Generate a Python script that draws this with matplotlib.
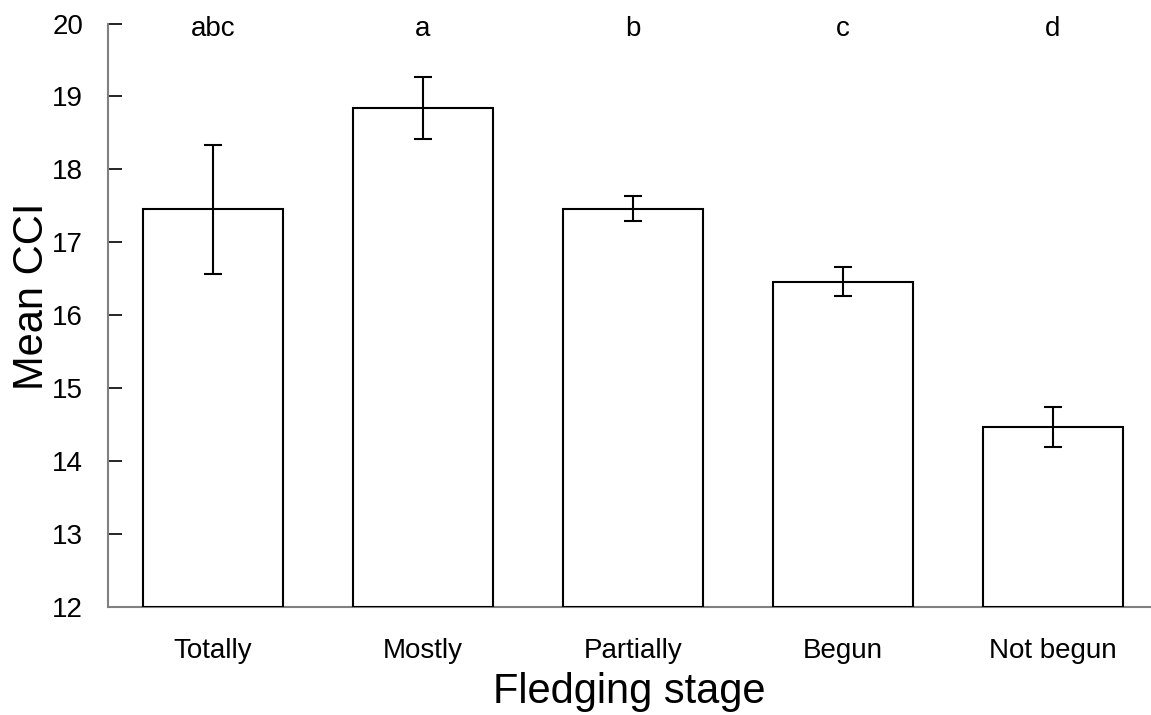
import numpy as np
import matplotlib
matplotlib.use("Agg")
import matplotlib.pyplot as plt

plt.rcParams['font.family'] = ['Liberation Sans', 'DejaVu Sans']

# mean condition index per fledging stage, with standard errors
stages = ['Totally', 'Mostly', 'Partially', 'Begun', 'Not begun']
mean_cci = [17.45, 18.84, 17.46, 16.46, 14.47]
se_cci = [0.88, 0.43, 0.17, 0.20, 0.27]
letters = ['abc', 'a', 'b', 'c', 'd']

base = 12
fig = plt.figure(figsize=(11.51, 7.15), dpi=100)
ax = fig.add_axes([108 / 1151, 108 / 715, 1 - 108 / 1151, 583.5 / 715])

x = np.arange(len(stages))
heights = np.array(mean_cci) - base
ax.bar(x, heights, bottom=base, width=0.667, color='white',
       edgecolor='black', linewidth=1.5, zorder=3)
ax.errorbar(x, mean_cci, yerr=se_cci, fmt='none', ecolor='black',
            elinewidth=1.5, capsize=6.5, capthick=1.5, zorder=4)

for xi, lab in zip(x, letters):
    ax.text(xi, 19.83, lab, ha='center', va='baseline', fontsize=20)

ax.set_ylim(12, 20)
ax.set_xlim(-0.5, 1043 / 210 - 0.5)
ax.set_yticks(range(12, 21))
ax.set_xticks(x)
ax.set_xticklabels(stages)

for side in ['top', 'right']:
    ax.spines[side].set_visible(False)
for side in ['left', 'bottom']:
    ax.spines[side].set_color('#808080')
    ax.spines[side].set_linewidth(1.5)

ax.tick_params(axis='y', direction='in', length=10, width=1.2,
               color='black', labelsize=20, pad=18)
ax.tick_params(axis='x', length=0, labelsize=20, pad=22)

ax.set_xlabel('Fledging stage', fontsize=30, labelpad=6)
ax.set_ylabel('Mean CCI', fontsize=30)
ax.yaxis.set_label_coords(-0.054, 0.533)

fig.savefig('out.png', dpi=100)
